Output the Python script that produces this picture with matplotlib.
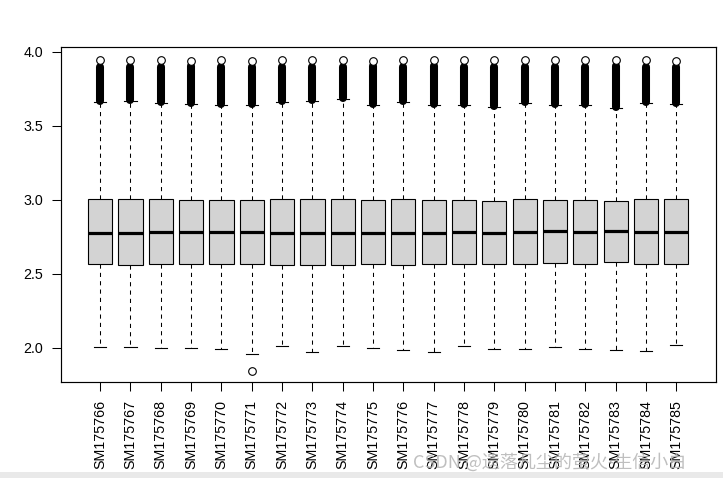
import matplotlib
matplotlib.use("Agg")
import matplotlib.pyplot as plt
from matplotlib.patches import Rectangle

plt.rcParams['font.family'] = ['Liberation Sans', 'DejaVu Sans']

# === data ===
samples = ['SM175766', 'SM175767', 'SM175768', 'SM175769', 'SM175770',
           'SM175771', 'SM175772', 'SM175773', 'SM175774', 'SM175775',
           'SM175776', 'SM175777', 'SM175778', 'SM175779', 'SM175780',
           'SM175781', 'SM175782', 'SM175783', 'SM175784', 'SM175785']

q1 = [2.563, 2.558, 2.568, 2.565, 2.565, 2.568, 2.561, 2.561, 2.561, 2.565,
      2.561, 2.565, 2.568, 2.565, 2.565, 2.574, 2.568, 2.581, 2.565, 2.568]
median = [2.777, 2.772, 2.779, 2.781, 2.781, 2.785, 2.777, 2.777, 2.774, 2.772,
          2.777, 2.777, 2.781, 2.777, 2.784, 2.786, 2.781, 2.790, 2.781, 2.779]
q3 = [3.002, 3.004, 3.002, 3.000, 2.997, 2.997, 3.002, 3.004, 3.007, 2.995,
      3.004, 2.997, 3.000, 2.993, 3.002, 3.000, 3.000, 2.991, 3.002, 3.002]
whisk_lo = [2.004, 2.004, 1.997, 1.997, 1.993, 1.959, 2.011, 1.968, 2.011, 1.997,
            1.986, 1.968, 2.009, 1.991, 1.991, 2.004, 1.993, 1.986, 1.980, 2.016]
whisk_hi = [3.662, 3.669, 3.651, 3.647, 3.643, 3.640, 3.662, 3.667, 3.678, 3.640,
            3.662, 3.640, 3.640, 3.624, 3.651, 3.640, 3.640, 3.618, 3.656, 3.645]
# dense upper outliers (a solid run of circles) and the single highest one
dense_top = [3.900, 3.900, 3.897, 3.902, 3.897, 3.895, 3.897, 3.900, 3.897, 3.902,
             3.900, 3.902, 3.897, 3.900, 3.900, 3.900, 3.897, 3.904, 3.897, 3.895]
out_max = [3.944, 3.943, 3.942, 3.937, 3.941, 3.939, 3.941, 3.944, 3.941, 3.939,
           3.941, 3.942, 3.941, 3.941, 3.942, 3.941, 3.942, 3.944, 3.942, 3.940]
low_outlier = {5: 1.842}

# === plot ===
fig = plt.figure(figsize=(7.23, 4.78), dpi=100)
ax = fig.add_axes([60.7 / 723, 1 - 382.3 / 478, 655 / 723, 335.6 / 478])

pos = list(range(1, len(samples) + 1))
stats = []
for i in range(len(samples)):
    fl = [out_max[i]]
    if i in low_outlier:
        fl.append(low_outlier[i])
    stats.append(dict(med=median[i], q1=q1[i], q3=q3[i],
                      whislo=whisk_lo[i], whishi=whisk_hi[i], fliers=fl))

ax.bxp(stats, positions=pos, widths=0.8, capwidths=0.4, patch_artist=True,
       boxprops=dict(facecolor='#d3d3d3', edgecolor='black', linewidth=0.8),
       medianprops=dict(color='black', linewidth=2.3, solid_capstyle='butt'),
       whiskerprops=dict(color='black', linestyle=(0, (4, 4)), linewidth=0.75),
       capprops=dict(color='black', linewidth=0.8),
       flierprops=dict(marker='o', markerfacecolor='white', markeredgecolor='black',
                       markersize=5.5, markeredgewidth=0.8, zorder=4))

dense_lo = [w + 0.006 for w in whisk_hi]
ax.vlines(pos, dense_lo, dense_top, colors='black', linewidth=5.8,
          capstyle='round', zorder=3)

ax.set_xlim(-0.3, 21.3)
ax.set_ylim(1.766, 4.034)
ax.set_yticks([2.0, 2.5, 3.0, 3.5, 4.0])
ax.set_yticklabels(['2.0', '2.5', '3.0', '3.5', '4.0'])
ax.set_xticks(pos)
ax.set_xticklabels(samples, rotation=90)
ax.tick_params(axis='both', length=6.6, width=0.75, labelsize=10.3, pad=6)
for s in ax.spines.values():
    s.set_linewidth(0.85)

# page strip + watermark seen at the bottom of the reference
fig.patches.append(Rectangle((0, 0), 1, 6 / 478, transform=fig.transFigure,
                             facecolor='#e9e9e9', edgecolor='none', zorder=0))
fig.text(413 / 723, 1 - 468 / 478, 'CSDN @遗落凡尘的萤火-生信小白',
         family=['Noto Sans CJK SC', 'DejaVu Sans'], fontsize=13,
         color='#b4b4b4', alpha=0.85, zorder=10)

fig.savefig('out.png', dpi=100)
